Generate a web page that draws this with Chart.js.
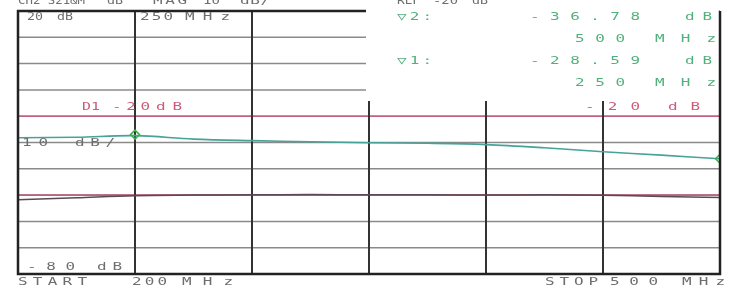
<!DOCTYPE html>
<html>
<head>
<meta charset="utf-8">
<script src="https://cdn.jsdelivr.net/npm/chart.js@4"></script>
<style>
  html,body{margin:0;padding:0;background:#fff;}
  #wrap{width:730px;height:288px;position:relative;}
</style>
</head>
<body>
<div id="wrap"><canvas id="c" width="730" height="288"></canvas></div>
<script>
// ---- data ----
const freqs      = [200, 225, 250, 275, 300, 325, 350, 375, 400, 425, 450, 475, 500];
const s21Upper   = [-28.2, -28.0, -27.4, -28.7, -29.3, -29.7, -30.1, -30.3, -30.8, -32.0, -33.5, -34.8, -36.2];
const s21Lower   = [-51.8, -51.0, -50.2, -50.0, -49.9, -49.8, -49.9, -49.9, -50.0, -49.9, -50.1, -50.5, -50.9];
const markerFreqs = [250, 500];
const markerVals  = [-27.0, -36.2];
const xGridVals  = [200, 250, 300, 350, 400, 450, 500];
const yGridVals  = [20, 10, 0, -10, -20, -30, -40, -50, -60, -70, -80];
const refLines   = [-20, -50];

// ---- text annotations: [text, x0, x1, yCenter, color] ----
const GRAY = '#6e6e6e', GREEN = '#52b07c', RED = '#cc5a78';
const texts = [
  ['CH2 S21&M', 18, 85, 1, GRAY], ['dB', 107, 123, 1, GRAY], ['MAG', 153, 187, 1, GRAY],
  ['10', 203, 220, 1, GRAY], ['dB/', 240, 270, 1, GRAY],
  ['REF', 397, 420, 1, GRAY], ['-20', 433, 458, 1, GRAY], ['dB', 472, 488, 1, GRAY],
  ['20', 27, 43, 17, GRAY], ['dB', 57, 73, 17, GRAY],
  ['250', 140, 173, 17, GRAY], ['MHz', 185, 230, 17, GRAY],
  ['\u25BD2:', 397, 432, 17, GREEN], ['-36.78', 530, 640, 17, GREEN], ['dB', 685, 712, 17, GREEN],
  ['500', 575, 625, 39, GREEN], ['MHz', 655, 716, 39, GREEN],
  ['\u25BD1:', 397, 432, 61, GREEN], ['-28.59', 530, 640, 61, GREEN], ['dB', 685, 712, 61, GREEN],
  ['250', 575, 625, 83, GREEN], ['MHz', 655, 716, 83, GREEN],
  ['D1', 82, 100, 107, RED], ['-20', 112, 150, 107, RED], ['dB', 156, 182, 107, RED],
  ['-20', 585, 640, 107, RED], ['dB', 668, 700, 107, RED],
  ['10', 22, 48, 143, GRAY], ['dB/', 75, 115, 143, GRAY],
  ['-80', 27, 75, 267, GRAY], ['dB', 97, 122, 267, GRAY],
  ['START', 18, 87, 282, GRAY], ['200', 132, 167, 282, GRAY], ['MHz', 182, 233, 282, GRAY],
  ['STOP', 545, 598, 282, GRAY], ['500', 610, 658, 282, GRAY], ['MHz', 682, 725, 282, GRAY]
];

function spreadText(ctx, str, x0, x1, y, color) {
  ctx.save();
  ctx.font = '11px "DejaVu Sans Mono"';
  ctx.fillStyle = color;
  ctx.textBaseline = 'middle';
  ctx.textAlign = 'left';
  ctx.letterSpacing = '0px';
  const w = ctx.measureText(str).width;
  const n = str.length;
  const target = x1 - x0;
  const sx = Math.min(1.45, target / w);
  const sp = n > 1 ? Math.max(0, (target - w * sx) / (n - 1)) / sx : 0;
  ctx.translate(x0, y);
  ctx.scale(sx, 1);
  ctx.letterSpacing = sp.toFixed(2) + 'px';
  ctx.fillText(str, 0, 0);
  ctx.restore();
}

const gridPlugin = {
  id: 'vnaGrid',
  beforeDatasetsDraw(chart) {
    const {ctx, chartArea: a, scales: {x, y}} = chart;
    ctx.save();
    yGridVals.forEach(v => {
      const py = y.getPixelForValue(v);
      ctx.beginPath();
      ctx.strokeStyle = '#8a8a8a';
      ctx.lineWidth = 1.5;
      ctx.moveTo(a.left, py); ctx.lineTo(a.right, py); ctx.stroke();
    });
    refLines.forEach(v => {
      const py = y.getPixelForValue(v);
      ctx.beginPath();
      ctx.strokeStyle = '#c2607e';
      ctx.lineWidth = 1.6;
      ctx.moveTo(a.left, py); ctx.lineTo(a.right, py); ctx.stroke();
    });
    xGridVals.forEach(v => {
      const px = x.getPixelForValue(v);
      ctx.beginPath();
      ctx.strokeStyle = '#333';
      ctx.lineWidth = 2;
      ctx.moveTo(px, a.top); ctx.lineTo(px, a.bottom); ctx.stroke();
    });
    ctx.restore();
  },
  afterDraw(chart) {
    const {ctx, chartArea: a} = chart;
    ctx.save();
    ctx.fillStyle = '#fff';
    ctx.fillRect(366, 0, a.right - 366 - 1, 101);
    ctx.strokeStyle = '#222';
    ctx.lineWidth = 2.5;
    ctx.beginPath();
    ctx.moveTo(366, a.top); ctx.lineTo(a.left, a.top);
    ctx.lineTo(a.left, a.bottom); ctx.lineTo(a.right, a.bottom);
    ctx.lineTo(a.right, a.top);
    ctx.stroke();
    ctx.restore();
    texts.forEach(t => spreadText(ctx, t[0], t[1], t[2], t[3], t[4]));
  }
};

new Chart(document.getElementById('c'), {
  type: 'line',
  data: {
    datasets: [
      {
        data: markerFreqs.map((f, i) => ({x: f, y: markerVals[i]})),
        showLine: false, pointStyle: 'rectRot', pointRadius: 4.5,
        pointBorderColor: '#3cb04a', pointBackgroundColor: 'rgba(0,0,0,0)', pointBorderWidth: 1.5
      },
      {
        data: freqs.map((f, i) => ({x: f, y: s21Upper[i]})),
        borderColor: '#45a39a', borderWidth: 1.6, pointRadius: 0, tension: 0.35, fill: false
      },
      {
        data: freqs.map((f, i) => ({x: f, y: s21Lower[i]})),
        borderColor: '#5b4a56', borderWidth: 1.5, pointRadius: 0, tension: 0.35, fill: false
      }
    ]
  },
  options: {
    responsive: false, animation: false, devicePixelRatio: 1,
    layout: {padding: {left: 18, top: 11, right: 10, bottom: 14}},
    plugins: {legend: {display: false}, tooltip: {enabled: false}},
    scales: {
      x: {type: 'linear', min: 200, max: 500, display: false},
      y: {type: 'linear', min: -80, max: 20, display: false}
    }
  },
  plugins: [gridPlugin]
});
</script>
</body>
</html>
